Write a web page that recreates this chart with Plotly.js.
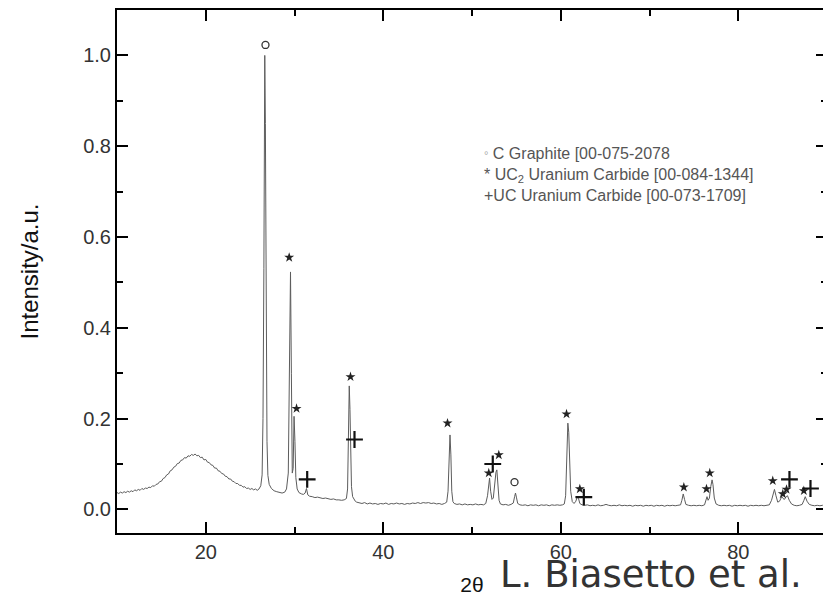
<!DOCTYPE html>
<html>
<head>
<meta charset="utf-8">
<script src="https://cdn.plot.ly/plotly-3.0.1.min.js"></script>
<style>
html,body{margin:0;padding:0;overflow:hidden;background:#fff;}
#chart{width:840px;height:597px;}
</style>
</head>
<body>
<div id="chart"></div>
<script>
// XRD pattern (2theta, normalized intensity)
const twoTheta = [
10.0,10.2,10.4,10.6,10.8,11.0,11.2,11.4,11.6,11.8,12.0,12.2,12.4,12.6,12.8,13.0,13.2,13.4,13.6,13.8,
14.0,14.2,14.4,14.6,14.8,15.0,15.2,15.4,15.6,15.8,16.0,16.2,16.4,16.6,16.8,17.0,17.2,17.4,17.6,17.8,
18.0,18.2,18.4,18.6,18.8,19.0,19.2,19.4,19.6,19.8,20.0,20.2,20.4,20.6,20.8,21.0,21.2,21.4,21.6,21.8,
22.0,22.2,22.4,22.6,22.8,23.0,23.2,23.4,23.6,23.8,24.0,24.2,24.4,24.6,24.8,25.0,25.2,25.4,25.6,25.8,
26.0,26.2,26.35,26.45,26.55,26.65,26.72,26.8,26.9,27.0,27.15,27.4,27.7,28.0,28.3,28.6,28.9,29.1,29.3,29.45,
29.55,29.65,29.75,29.85,29.95,30.05,30.15,30.3,30.5,30.8,31.0,31.2,31.35,31.5,31.7,32.0,32.3,32.6,32.9,33.2,
33.5,33.8,34.1,34.4,34.7,35.0,35.3,35.6,35.85,35.98,36.08,36.17,36.25,36.33,36.42,36.55,36.7,36.85,37.0,37.3,
37.6,37.9,38.2,38.5,38.8,39.1,39.4,39.7,40.0,40.3,40.6,40.9,41.2,41.5,41.8,42.1,42.4,42.7,43.0,43.3,
43.6,43.9,44.2,44.5,44.8,45.1,45.4,45.7,46.0,46.3,46.6,46.9,47.15,47.3,47.42,47.52,47.62,47.72,47.85,48.0,
48.3,48.6,48.9,49.2,49.5,49.8,50.1,50.4,50.7,51.0,51.3,51.55,51.75,51.9,51.98,52.1,52.25,52.4,52.55,52.7,
52.8,52.92,53.05,53.2,53.5,53.8,54.1,54.4,54.65,54.8,54.9,55.0,55.15,55.4,55.7,56.0,56.3,56.6,56.9,57.2,
57.5,57.8,58.1,58.4,58.7,59.0,59.3,59.6,59.9,60.2,60.4,60.55,60.68,60.8,60.9,61.0,61.12,61.3,61.5,61.7,
61.85,62.0,62.15,62.4,62.7,63.0,63.3,63.6,63.9,64.2,64.5,64.8,65.1,65.4,65.7,66.0,66.3,66.6,66.9,67.2,
67.5,67.8,68.1,68.4,68.7,69.0,69.3,69.6,69.9,70.2,70.5,70.8,71.1,71.4,71.7,72.0,72.3,72.6,72.9,73.2,
73.5,73.65,73.8,73.95,74.1,74.4,74.7,75.0,75.3,75.6,75.9,76.2,76.35,76.48,76.6,76.75,76.9,77.05,77.15,77.3,
77.5,77.8,78.1,78.4,78.7,79.0,79.3,79.6,79.9,80.2,80.5,80.8,81.1,81.4,81.7,82.0,82.3,82.6,82.9,83.2,
83.5,83.75,83.95,84.08,84.25,84.45,84.65,84.9,85.05,85.2,85.4,85.55,85.75,86.0,86.3,86.6,86.9,87.2,87.4,87.55,
87.75,88.0,88.3,88.6,88.9,89.2,89.5,89.8,90.0
];
const intensity = [
.037,.035,.038,.036,.039,.037,.040,.038,.041,.039,.043,.041,.044,.042,.046,.044,.047,.046,.049,.048,
.052,.051,.055,.056,.061,.062,.068,.070,.076,.078,.085,.087,.093,.095,.101,.102,.108,.109,.114,.113,
.118,.117,.121,.119,.122,.118,.119,.114,.115,.109,.110,.104,.103,.098,.097,.091,.091,.085,.084,.079,
.078,.073,.072,.067,.067,.062,.061,.057,.057,.053,.053,.049,.050,.046,.047,.044,.046,.043,.045,.042,
.045,.052,.076,.20,.53,1.0,.85,.53,.15,.075,.055,.046,.041,.039,.037,.036,.038,.045,.08,.30,
.523,.30,.08,.09,.205,.15,.07,.045,.037,.034,.033,.036,.046,.032,.029,.028,.026,.027,.025,.024,
.025,.023,.022,.023,.021,.021,.020,.021,.024,.045,.14,.272,.22,.12,.05,.028,.022,.018,.016,.014,
.013,.015,.012,.014,.012,.013,.011,.013,.012,.014,.011,.013,.012,.014,.012,.013,.011,.013,.012,.014,
.013,.015,.013,.015,.014,.015,.013,.014,.012,.013,.011,.013,.016,.04,.12,.164,.12,.04,.017,.013,
.011,.012,.010,.012,.010,.011,.010,.012,.010,.011,.010,.013,.03,.065,.069,.04,.022,.025,.055,.082,
.087,.05,.02,.012,.010,.011,.009,.011,.014,.028,.036,.027,.013,.010,.009,.010,.008,.010,.009,.010,
.008,.010,.009,.010,.008,.010,.009,.010,.009,.010,.012,.03,.10,.19,.17,.10,.04,.017,.013,.018,
.027,.024,.013,.010,.009,.010,.008,.009,.008,.010,.008,.009,.011,.009,.008,.009,.008,.010,.008,.009,
.008,.009,.007,.009,.008,.009,.007,.009,.008,.009,.007,.009,.008,.009,.007,.009,.008,.009,.008,.009,
.010,.02,.034,.022,.011,.009,.008,.009,.008,.009,.008,.010,.018,.028,.02,.025,.05,.065,.055,.025,
.012,.009,.008,.009,.008,.009,.007,.009,.008,.009,.008,.009,.007,.009,.008,.009,.008,.009,.008,.009,
.010,.02,.038,.044,.03,.016,.018,.028,.024,.022,.028,.030,.02,.012,.009,.008,.009,.011,.02,.028,
.018,.011,.009,.008,.009,.008,.009,.008,.008
];

// Phase markers (position, label height)
const graphiteX = [26.73, 54.79];
const graphiteY = [1.023, 0.060];
const uc2X = [29.40, 30.23, 36.31, 47.24, 51.89, 53.02, 60.65, 62.15, 73.87, 76.42, 76.79, 83.89, 85.02, 85.44, 87.39];
const uc2Y = [0.555, 0.222, 0.292, 0.190, 0.080, 0.120, 0.210, 0.045, 0.049, 0.045, 0.080, 0.063, 0.034, 0.044, 0.041];
const ucX = [31.43, 36.76, 52.34, 62.60, 85.77, 88.14];
const ucY = [0.066, 0.154, 0.100, 0.027, 0.066, 0.046];

const legendLines = [
  "<span style='color:#aaa;font-size:11px'>°</span> C Graphite [00-075-2078",
  "* UC<sub>2</sub> Uranium Carbide [00-084-1344]",
  "+UC Uranium Carbide [00-073-1709]"
];

const axisFont = {family: "Liberation Sans, Arial, sans-serif", size: 20, color: "#333"};

const traces = [
  {x: twoTheta, y: intensity, type: "scatter", mode: "lines",
   line: {color: "#5c5c5c", width: 1}, hoverinfo: "skip", showlegend: false},
  {x: graphiteX, y: graphiteY, type: "scatter", mode: "markers",
   marker: {symbol: "circle-open", size: 7, color: "#333", line: {width: 1.3, color: "#333"}}, showlegend: false},
  {x: uc2X, y: uc2Y, type: "scatter", mode: "markers",
   marker: {symbol: "star", size: 7.5, color: "#222", line: {width: 0}}, showlegend: false},
  {x: ucX, y: ucY, type: "scatter", mode: "markers",
   marker: {symbol: "cross-thin-open", size: 12, color: "#111", line: {width: 2.2, color: "#111"}}, showlegend: false}
];

const layout = {
  width: 840, height: 597,
  margin: {l: 117, r: 13, t: 10, b: 64},
  paper_bgcolor: "#fff", plot_bgcolor: "#fff",
  showlegend: false,
  xaxis: {
    range: [10, 90], tick0: 0, dtick: 20,
    ticks: "inside", ticklen: 11, tickwidth: 2, tickcolor: "#000",
    showline: true, linewidth: 2, linecolor: "#000", mirror: "ticks",
    showgrid: false, zeroline: false, tickfont: axisFont,
    minor: {dtick: 10, tick0: 0, ticks: "inside", ticklen: 6, tickwidth: 2, tickcolor: "#000", showgrid: false},
    title: {text: "2θ", font: {family: "Liberation Sans, Arial, sans-serif", size: 21, color: "#111"}, standoff: 15}
  },
  yaxis: {
    range: [-0.052, 1.1], tick0: 0, dtick: 0.2, tickformat: ".1f",
    ticks: "inside", ticklen: 11, tickwidth: 2, tickcolor: "#000",
    showline: true, linewidth: 2, linecolor: "#000", mirror: "ticks",
    showgrid: false, zeroline: false, tickfont: axisFont,
    minor: {dtick: 0.1, tick0: 0, ticks: "inside", ticklen: 6, tickwidth: 2, tickcolor: "#000", showgrid: false},
    title: {text: "Intensity/a.u.", font: {family: "Liberation Sans, Arial, sans-serif", size: 24, color: "#111"}, standoff: 38}
  },
  annotations: [
    {xref: "x", yref: "y", x: 51.15, y: 0.807, xanchor: "left", yanchor: "top", align: "left",
     showarrow: false, text: legendLines.join("<br>"),
     font: {family: "Liberation Sans, Arial, sans-serif", size: 16, color: "#555"}},
    {xref: "x", yref: "paper", x: 52.95, y: -0.079, xanchor: "left", yanchor: "middle",
     showarrow: false, text: "L. Biasetto et al.",
     font: {family: "DejaVu Sans, Verdana, sans-serif", size: 37, color: "#333"}}
  ]
};

Plotly.newPlot("chart", traces, layout, {staticPlot: true, displayModeBar: false});
</script>
</body>
</html>
